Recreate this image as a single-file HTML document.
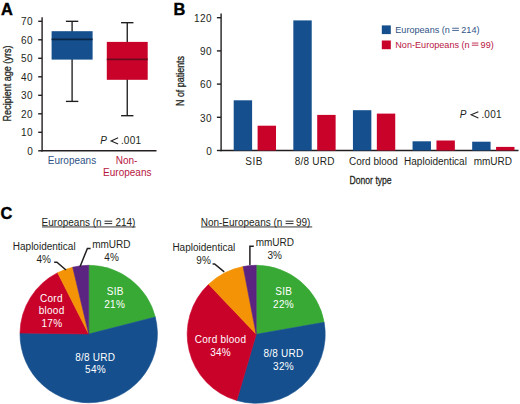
<!DOCTYPE html>
<html><head><meta charset="utf-8"><style>
html,body{margin:0;padding:0;background:#fff;}
svg{display:block;}
text{font-family:"Liberation Sans",sans-serif;}
</style></head><body>
<svg width="520" height="404" viewBox="0 0 520 404">
<rect width="520" height="404" fill="#fff"/>
<text x="0.9" y="14.8" font-size="16.4" font-weight="bold" fill="#000" stroke="#000" stroke-width="0.4">A</text>
<g stroke="#231f20" stroke-width="1.4" fill="none">
<line x1="42.1" y1="17.3" x2="42.1" y2="151.5"/>
<line x1="41.4" y1="150.8" x2="156.5" y2="150.8"/>
<line x1="38.2" y1="150.80" x2="42" y2="150.80"/>
<line x1="38.2" y1="132.30" x2="42" y2="132.30"/>
<line x1="38.2" y1="113.80" x2="42" y2="113.80"/>
<line x1="38.2" y1="95.30" x2="42" y2="95.30"/>
<line x1="38.2" y1="76.80" x2="42" y2="76.80"/>
<line x1="38.2" y1="58.30" x2="42" y2="58.30"/>
<line x1="38.2" y1="39.80" x2="42" y2="39.80"/>
<line x1="38.2" y1="21.30" x2="42" y2="21.30"/>
</g>
<text x="33.2" y="154.90" font-size="10" text-anchor="end" fill="#231f20" letter-spacing="0.5">0</text>
<text x="33.2" y="136.40" font-size="10" text-anchor="end" fill="#231f20" letter-spacing="0.5">10</text>
<text x="33.2" y="117.90" font-size="10" text-anchor="end" fill="#231f20" letter-spacing="0.5">20</text>
<text x="33.2" y="99.40" font-size="10" text-anchor="end" fill="#231f20" letter-spacing="0.5">30</text>
<text x="33.2" y="80.90" font-size="10" text-anchor="end" fill="#231f20" letter-spacing="0.5">40</text>
<text x="33.2" y="62.40" font-size="10" text-anchor="end" fill="#231f20" letter-spacing="0.5">50</text>
<text x="33.2" y="43.90" font-size="10" text-anchor="end" fill="#231f20" letter-spacing="0.5">60</text>
<text x="33.2" y="25.40" font-size="10" text-anchor="end" fill="#231f20" letter-spacing="0.5">70</text>
<text transform="translate(10.9,83.5) rotate(-90) scale(0.78,1)" font-size="11.6" text-anchor="middle" fill="#231f20" stroke="#231f20" stroke-width="0.3">Recipient age (yrs)</text>
<g stroke="#1e1e1e" stroke-width="1.35"><line x1="72.1" y1="21.3" x2="72.1" y2="101.4"/><line x1="65.89999999999999" y1="21.3" x2="78.3" y2="21.3"/><line x1="65.89999999999999" y1="101.4" x2="78.3" y2="101.4"/></g>
<rect x="51.6" y="31.2" width="41.00" height="28.40" fill="#154f8d"/>
<line x1="51.6" y1="39.4" x2="92.6" y2="39.4" stroke="#0b2748" stroke-width="1.7"/>
<g stroke="#1e1e1e" stroke-width="1.35"><line x1="127.25" y1="22.7" x2="127.25" y2="115.7"/><line x1="121.05" y1="22.7" x2="133.45" y2="22.7"/><line x1="121.05" y1="115.7" x2="133.45" y2="115.7"/></g>
<rect x="106.8" y="41.9" width="40.90" height="37.90" fill="#c9022a"/>
<line x1="106.8" y1="59.3" x2="147.7" y2="59.3" stroke="#6a0a1c" stroke-width="1.7"/>
<text x="100.2" y="144.2" font-size="10" font-style="italic" fill="#231f20">P</text>
<polyline points="118.1,137.79999999999998 111.1,140.89999999999998 118.1,144.0" fill="none" stroke="#231f20" stroke-width="1.05"/>
<text x="120.9" y="144.2" font-size="10" fill="#231f20" letter-spacing="0.2">.001</text>
<text x="72" y="164.3" font-size="10" text-anchor="middle" fill="#2f5385">Europeans</text>
<text x="126.5" y="164.3" font-size="10" text-anchor="middle" fill="#b8163f">Non-</text>
<text x="127.3" y="175.9" font-size="10" text-anchor="middle" fill="#b8163f">Europeans</text>
<text x="173.6" y="14.9" font-size="16.4" font-weight="bold" fill="#000" stroke="#000" stroke-width="0.4">B</text>
<g stroke="#231f20" stroke-width="1.4" fill="none">
<line x1="221.1" y1="13.5" x2="221.1" y2="151.2"/>
<line x1="220.4" y1="150.5" x2="518.5" y2="150.5"/>
<line x1="216.9" y1="150.50" x2="221.1" y2="150.50"/>
<line x1="216.9" y1="117.30" x2="221.1" y2="117.30"/>
<line x1="216.9" y1="84.10" x2="221.1" y2="84.10"/>
<line x1="216.9" y1="50.90" x2="221.1" y2="50.90"/>
<line x1="216.9" y1="17.70" x2="221.1" y2="17.70"/>
</g>
<text x="212.2" y="154.80" font-size="10" text-anchor="end" fill="#231f20" letter-spacing="0.5">0</text>
<text x="212.2" y="121.60" font-size="10" text-anchor="end" fill="#231f20" letter-spacing="0.5">30</text>
<text x="212.2" y="88.40" font-size="10" text-anchor="end" fill="#231f20" letter-spacing="0.5">60</text>
<text x="212.2" y="55.20" font-size="10" text-anchor="end" fill="#231f20" letter-spacing="0.5">90</text>
<text x="212.2" y="22.00" font-size="10" text-anchor="end" fill="#231f20" letter-spacing="0.5">120</text>
<text transform="translate(184.3,81) rotate(-90) scale(0.77,1)" font-size="11.6" text-anchor="middle" fill="#231f20" stroke="#231f20" stroke-width="0.3">N of patients</text>
<rect x="233.70" y="100.3" width="18.4" height="50.20" fill="#154f8d"/>
<rect x="257.60" y="125.7" width="18.4" height="24.80" fill="#c9022a"/>
<rect x="293.32" y="20.4" width="18.4" height="130.10" fill="#154f8d"/>
<rect x="317.22" y="114.9" width="18.4" height="35.60" fill="#c9022a"/>
<rect x="352.94" y="110.2" width="18.4" height="40.30" fill="#154f8d"/>
<rect x="376.84" y="113.6" width="18.4" height="36.90" fill="#c9022a"/>
<rect x="412.56" y="141.3" width="18.4" height="9.20" fill="#154f8d"/>
<rect x="436.46" y="140.5" width="18.4" height="10.00" fill="#c9022a"/>
<rect x="472.18" y="141.7" width="18.4" height="8.80" fill="#154f8d"/>
<rect x="496.08" y="146.9" width="18.4" height="3.60" fill="#c9022a"/>
<text x="254.10" y="164.6" font-size="10" text-anchor="middle" fill="#231f20" letter-spacing="0.6">SIB</text>
<text x="314.73" y="164.6" font-size="10" text-anchor="middle" fill="#231f20" letter-spacing="0.25">8/8 URD</text>
<text x="373.40" y="164.6" font-size="10" text-anchor="middle" fill="#231f20">Cord blood</text>
<text x="435.50" y="164.6" font-size="10" text-anchor="middle" fill="#231f20">Haploidentical</text>
<text x="492.80" y="164.6" font-size="10" text-anchor="middle" fill="#231f20">mmURD</text>
<text transform="translate(370.6,183.6) scale(0.73,1)" font-size="11.8" text-anchor="middle" fill="#231f20" stroke="#231f20" stroke-width="0.3">Donor type</text>
<text x="459.7" y="118.1" font-size="10" font-style="italic" fill="#231f20">P</text>
<polyline points="478.40000000000003,111.69999999999999 471.1,114.8 478.40000000000003,117.89999999999999" fill="none" stroke="#231f20" stroke-width="1.05"/>
<text x="481.40000000000003" y="118.1" font-size="10" fill="#231f20" letter-spacing="0.2">.001</text>
<rect x="381.8" y="25.4" width="9" height="8.7" fill="#154f8d"/>
<rect x="381.8" y="40.5" width="9" height="8.7" fill="#c9022a"/>
<text x="0.4" y="219.2" font-size="16.4" font-weight="bold" fill="#000" stroke="#000" stroke-width="0.4">C</text>
<path d="M88.7,334 L88.70,265.30 A68.7,68.7 0 0 1 155.27,317.03 Z" fill="#39a935" stroke="#39a935" stroke-width="0.6" stroke-linejoin="round"/>
<path d="M88.7,334 L155.27,317.03 A68.7,68.7 0 1 1 20.01,332.99 Z" fill="#154f8d" stroke="#154f8d" stroke-width="0.6" stroke-linejoin="round"/>
<path d="M88.7,334 L20.01,332.99 A68.7,68.7 0 0 1 57.60,272.74 Z" fill="#c9022a" stroke="#c9022a" stroke-width="0.6" stroke-linejoin="round"/>
<path d="M88.7,334 L57.60,272.74 A68.7,68.7 0 0 1 72.71,267.19 Z" fill="#f49306" stroke="#f49306" stroke-width="0.6" stroke-linejoin="round"/>
<path d="M88.7,334 L72.71,267.19 A68.7,68.7 0 0 1 88.70,265.30 Z" fill="#5b2480" stroke="#5b2480" stroke-width="0.6" stroke-linejoin="round"/>
<path d="M256.2,334.3 L256.20,265.30 A69.0,69.0 0 0 1 324.15,322.32 Z" fill="#39a935" stroke="#39a935" stroke-width="0.6" stroke-linejoin="round"/>
<path d="M256.2,334.3 L324.15,322.32 A69.0,69.0 0 0 1 236.76,400.51 Z" fill="#154f8d" stroke="#154f8d" stroke-width="0.6" stroke-linejoin="round"/>
<path d="M256.2,334.3 L236.76,400.51 A69.0,69.0 0 0 1 208.58,284.36 Z" fill="#c9022a" stroke="#c9022a" stroke-width="0.6" stroke-linejoin="round"/>
<path d="M256.2,334.3 L208.58,284.36 A69.0,69.0 0 0 1 243.14,266.55 Z" fill="#f49306" stroke="#f49306" stroke-width="0.6" stroke-linejoin="round"/>
<path d="M256.2,334.3 L243.14,266.55 A69.0,69.0 0 0 1 256.20,265.30 Z" fill="#5b2480" stroke="#5b2480" stroke-width="0.6" stroke-linejoin="round"/>
<text x="395.3" y="32.8" font-size="9.1" text-anchor="start" fill="#2f5385">Europeans (n</text>
<g stroke="#2f5385" stroke-width="0.86"><line x1="452.2" y1="28.25" x2="458.9" y2="28.25"/><line x1="452.2" y1="30.43" x2="458.9" y2="30.43"/></g>
<text x="461.3" y="32.8" font-size="9.1" text-anchor="start" fill="#2f5385">214)</text>
<text x="395.3" y="47.6" font-size="9.1" text-anchor="start" fill="#b8163f">Non-Europeans (n</text>
<g stroke="#b8163f" stroke-width="0.86"><line x1="471.9" y1="43.05" x2="478.4" y2="43.05"/><line x1="471.9" y1="45.23" x2="478.4" y2="45.23"/></g>
<text x="480.6" y="47.6" font-size="9.1" text-anchor="start" fill="#b8163f">99)</text>
<text x="41.6" y="226.2" font-size="10" text-anchor="start" fill="#231f20">Europeans (n</text>
<g stroke="#231f20" stroke-width="0.95"><line x1="104.5" y1="221.20" x2="112.2" y2="221.20"/><line x1="104.5" y1="223.60" x2="112.2" y2="223.60"/></g>
<text x="115.4" y="226.2" font-size="10" text-anchor="start" fill="#231f20">214)</text>
<line x1="42" y1="226.95" x2="135.6" y2="226.95" stroke="#231f20" stroke-width="0.9"/>
<text x="200.7" y="226.2" font-size="10" text-anchor="start" fill="#231f20">Non-Europeans (n</text>
<g stroke="#231f20" stroke-width="0.95"><line x1="285.6" y1="221.20" x2="293.5" y2="221.20"/><line x1="285.6" y1="223.60" x2="293.5" y2="223.60"/></g>
<text x="296.0" y="226.2" font-size="10" text-anchor="start" fill="#231f20">99)</text>
<line x1="201" y1="226.95" x2="312.2" y2="226.95" stroke="#231f20" stroke-width="0.9"/>
<text x="44.2" y="250.2" font-size="10" text-anchor="middle" fill="#231f20">Haploidentical</text>
<text x="43.8" y="262.6" font-size="10" text-anchor="middle" fill="#231f20">4%</text>
<text x="111.3" y="248.4" font-size="10" text-anchor="middle" fill="#231f20">mmURD</text>
<text x="111.6" y="260.6" font-size="10" text-anchor="middle" fill="#231f20">4%</text>
<polyline points="54.2,262.2 56.9,262.2 66,270" fill="none" stroke="#231f20" stroke-width="1.5"/>
<polyline points="90.6,248.4 87.4,248.4 80.1,266.5" fill="none" stroke="#231f20" stroke-width="1.5"/>
<text x="115.2" y="295.3" font-size="10" text-anchor="middle" fill="#fff" letter-spacing="0.25">SIB</text>
<text x="114.7" y="307.7" font-size="10" text-anchor="middle" fill="#fff" letter-spacing="0.25">21%</text>
<text x="51.4" y="301.7" font-size="10" text-anchor="middle" fill="#fff" letter-spacing="0.25">Cord</text>
<text x="51.6" y="314" font-size="10" text-anchor="middle" fill="#fff" letter-spacing="0.25">blood</text>
<text x="51.9" y="326.5" font-size="10" text-anchor="middle" fill="#fff" letter-spacing="0.25">17%</text>
<text x="95.2" y="360.5" font-size="10" text-anchor="middle" fill="#fff" letter-spacing="0.25">8/8 URD</text>
<text x="95.5" y="373" font-size="10" text-anchor="middle" fill="#fff" letter-spacing="0.25">54%</text>
<text x="203.8" y="251.4" font-size="10" text-anchor="middle" fill="#231f20">Haploidentical</text>
<text x="203.6" y="264.4" font-size="10" text-anchor="middle" fill="#231f20">9%</text>
<text x="274.8" y="246.2" font-size="10" text-anchor="middle" fill="#231f20">mmURD</text>
<text x="274.7" y="258.8" font-size="10" text-anchor="middle" fill="#231f20">3%</text>
<polyline points="212.6,263.9 214.6,263.9 224.2,271.8" fill="none" stroke="#231f20" stroke-width="1.5"/>
<polyline points="253.8,246.2 249.9,246.2 249.9,265" fill="none" stroke="#231f20" stroke-width="1.5"/>
<text x="283.7" y="295" font-size="10" text-anchor="middle" fill="#fff" letter-spacing="0.25">SIB</text>
<text x="283.5" y="307.5" font-size="10" text-anchor="middle" fill="#fff" letter-spacing="0.25">22%</text>
<text x="220.5" y="342.5" font-size="10" text-anchor="middle" fill="#fff" letter-spacing="0.25">Cord blood</text>
<text x="220.6" y="356.3" font-size="10" text-anchor="middle" fill="#fff" letter-spacing="0.25">34%</text>
<text x="283.5" y="357" font-size="10" text-anchor="middle" fill="#fff" letter-spacing="0.25">8/8 URD</text>
<text x="283.5" y="369.5" font-size="10" text-anchor="middle" fill="#fff" letter-spacing="0.25">32%</text>
</svg></body></html>
